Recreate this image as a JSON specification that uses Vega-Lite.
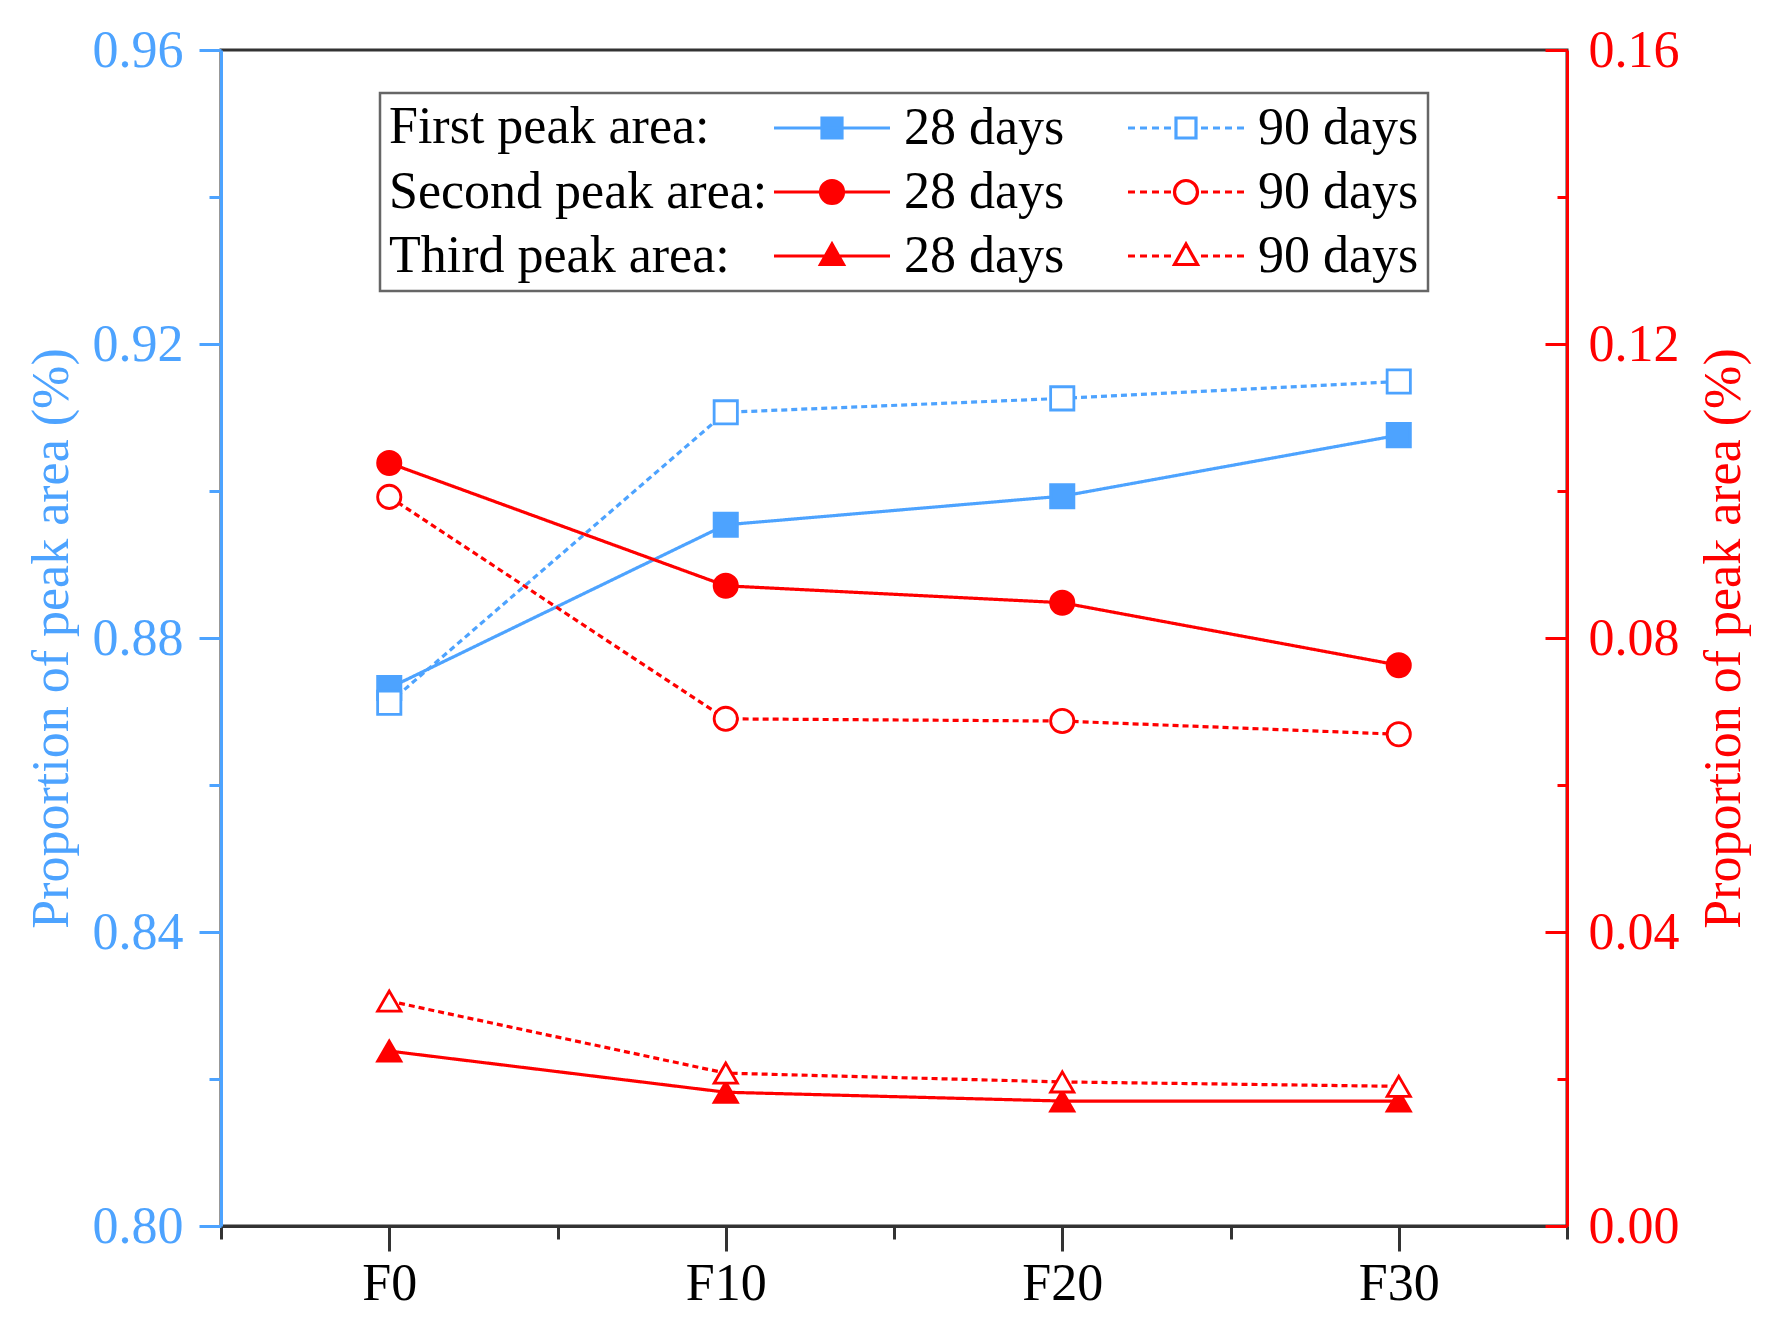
{
  "$schema": "https://vega.github.io/schema/vega-lite/v6.json",
  "autosize": "none",
  "width": 1346,
  "height": 1176,
  "padding": {"left": 221, "top": 50, "right": 214, "bottom": 114},
  "background": "white",
  "config": {
    "font": "Liberation Serif",
    "view": {"stroke": "#333333", "strokeWidth": 3},
    "axis": {"grid": false, "labelFont": "Liberation Serif", "titleFont": "Liberation Serif", "labelFontSize": 52, "titleFontSize": 52, "titleFontWeight": "normal", "tickWidth": 3, "domainWidth": 3}
  },
  "data": {
    "values": [
      {"mix": "F0", "peak": "First", "series": "First peak, 28 days", "value": 0.8732},
      {"mix": "F10", "peak": "First", "series": "First peak, 28 days", "value": 0.8954},
      {"mix": "F20", "peak": "First", "series": "First peak, 28 days", "value": 0.8993},
      {"mix": "F30", "peak": "First", "series": "First peak, 28 days", "value": 0.9076},
      {"mix": "F0", "peak": "First", "series": "First peak, 90 days", "value": 0.8712},
      {"mix": "F10", "peak": "First", "series": "First peak, 90 days", "value": 0.9107},
      {"mix": "F20", "peak": "First", "series": "First peak, 90 days", "value": 0.9126},
      {"mix": "F30", "peak": "First", "series": "First peak, 90 days", "value": 0.9149},
      {"mix": "F0", "peak": "Second", "series": "Second peak, 28 days", "value": 0.1038},
      {"mix": "F10", "peak": "Second", "series": "Second peak, 28 days", "value": 0.0871},
      {"mix": "F20", "peak": "Second", "series": "Second peak, 28 days", "value": 0.0848},
      {"mix": "F30", "peak": "Second", "series": "Second peak, 28 days", "value": 0.0763},
      {"mix": "F0", "peak": "Second", "series": "Second peak, 90 days", "value": 0.0992},
      {"mix": "F10", "peak": "Second", "series": "Second peak, 90 days", "value": 0.0690},
      {"mix": "F20", "peak": "Second", "series": "Second peak, 90 days", "value": 0.0687},
      {"mix": "F30", "peak": "Second", "series": "Second peak, 90 days", "value": 0.0669},
      {"mix": "F0", "peak": "Third", "series": "Third peak, 28 days", "value": 0.0238},
      {"mix": "F10", "peak": "Third", "series": "Third peak, 28 days", "value": 0.0182},
      {"mix": "F20", "peak": "Third", "series": "Third peak, 28 days", "value": 0.0170},
      {"mix": "F30", "peak": "Third", "series": "Third peak, 28 days", "value": 0.0170},
      {"mix": "F0", "peak": "Third", "series": "Third peak, 90 days", "value": 0.0306},
      {"mix": "F10", "peak": "Third", "series": "Third peak, 90 days", "value": 0.0208},
      {"mix": "F20", "peak": "Third", "series": "Third peak, 90 days", "value": 0.0196},
      {"mix": "F30", "peak": "Third", "series": "Third peak, 90 days", "value": 0.0190}
    ]
  },
  "layer": [
    {
      "transform": [{"filter": "datum.peak == 'First'"}],
      "encoding": {
        "x": {"field": "mix", "type": "ordinal", "sort": ["F0", "F10", "F20", "F30"], "scale": {"type": "point", "padding": 0.5},
          "axis": {"orient": "bottom", "title": null, "labelAngle": 0, "tickSize": 25, "tickColor": "#333333", "domainColor": "#333333", "labelColor": "black", "labelPadding": 7}},
        "y": {"field": "value", "type": "quantitative", "scale": {"domain": [0.8, 0.96], "zero": false, "nice": false},
          "axis": {"orient": "left", "values": [0.8, 0.84, 0.88, 0.92, 0.96], "format": ".2f", "tickSize": 22, "tickColor": "#4da3ff", "domainColor": "#4da3ff", "labelColor": "#4da3ff", "labelPadding": 16, "title": "Proportion of peak area (%)", "titleColor": "#4da3ff", "titlePadding": 14}},
        "stroke": {"field": "series", "type": "nominal", "legend": null,
          "scale": {"domain": ["First peak, 28 days", "First peak, 90 days", "Second peak, 28 days", "Second peak, 90 days", "Third peak, 28 days", "Third peak, 90 days"], "range": ["#4da3ff", "#4da3ff", "#ff0000", "#ff0000", "#ff0000", "#ff0000"]}}
      },
      "layer": [
        {"mark": {"type": "line", "strokeWidth": 3.2},
          "encoding": {"strokeDash": {"field": "series", "type": "nominal", "legend": null,
            "scale": {"domain": ["First peak, 28 days", "First peak, 90 days", "Second peak, 28 days", "Second peak, 90 days", "Third peak, 28 days", "Third peak, 90 days"], "range": [[1, 0], [6, 4], [1, 0], [6, 4], [1, 0], [6, 4]]}}}},
        {"mark": {"type": "point", "filled": true, "opacity": 1, "strokeWidth": 2.8, "size": 540},
          "encoding": {
            "fill": {"field": "series", "type": "nominal", "legend": null,
              "scale": {"domain": ["First peak, 28 days", "First peak, 90 days", "Second peak, 28 days", "Second peak, 90 days", "Third peak, 28 days", "Third peak, 90 days"], "range": ["#4da3ff", "white", "#ff0000", "white", "#ff0000", "white"]}},
            "shape": {"field": "series", "type": "nominal", "legend": null,
              "scale": {"domain": ["First peak, 28 days", "First peak, 90 days", "Second peak, 28 days", "Second peak, 90 days", "Third peak, 28 days", "Third peak, 90 days"], "range": ["square", "square", "circle", "circle", "triangle-up", "triangle-up"]}}
          }}
      ]
    },
    {
      "transform": [{"filter": "datum.peak != 'First'"}],
      "encoding": {
        "x": {"field": "mix", "type": "ordinal", "sort": ["F0", "F10", "F20", "F30"], "scale": {"type": "point", "padding": 0.5}, "axis": null},
        "y": {"field": "value", "type": "quantitative", "scale": {"domain": [0, 0.16], "zero": false, "nice": false},
          "axis": {"orient": "right", "values": [0, 0.04, 0.08, 0.12, 0.16], "format": ".2f", "tickSize": -22, "tickColor": "#ff0000", "domainColor": "#ff0000", "labelColor": "#ff0000", "labelPadding": 43, "title": "Proportion of peak area (%)", "titleColor": "#ff0000", "titleAngle": 270, "titleBaseline": "top", "titlePadding": 19}},
        "stroke": {"field": "series", "type": "nominal", "legend": null,
          "scale": {"domain": ["First peak, 28 days", "First peak, 90 days", "Second peak, 28 days", "Second peak, 90 days", "Third peak, 28 days", "Third peak, 90 days"], "range": ["#4da3ff", "#4da3ff", "#ff0000", "#ff0000", "#ff0000", "#ff0000"]}}
      },
      "layer": [
        {"mark": {"type": "line", "strokeWidth": 3.2},
          "encoding": {"strokeDash": {"field": "series", "type": "nominal", "legend": null,
            "scale": {"domain": ["First peak, 28 days", "First peak, 90 days", "Second peak, 28 days", "Second peak, 90 days", "Third peak, 28 days", "Third peak, 90 days"], "range": [[1, 0], [6, 4], [1, 0], [6, 4], [1, 0], [6, 4]]}}}},
        {"mark": {"type": "point", "filled": true, "opacity": 1, "strokeWidth": 2.8, "size": 540},
          "encoding": {
            "fill": {"field": "series", "type": "nominal", "legend": null,
              "scale": {"domain": ["First peak, 28 days", "First peak, 90 days", "Second peak, 28 days", "Second peak, 90 days", "Third peak, 28 days", "Third peak, 90 days"], "range": ["#4da3ff", "white", "#ff0000", "white", "#ff0000", "white"]}},
            "shape": {"field": "series", "type": "nominal", "legend": null,
              "scale": {"domain": ["First peak, 28 days", "First peak, 90 days", "Second peak, 28 days", "Second peak, 90 days", "Third peak, 28 days", "Third peak, 90 days"], "range": ["square", "square", "circle", "circle", "triangle-up", "triangle-up"]}}
          }}
      ]
    },
    {
      "mark": {"type": "point", "opacity": 0},
      "encoding": {
        "x": {"field": "mix", "type": "ordinal", "sort": ["F0", "F10", "F20", "F30"], "scale": {"type": "band", "paddingInner": 0, "paddingOuter": 0},
          "axis": {"orient": "bottom", "tickBand": "extent", "tickSize": 13, "tickColor": "#333333", "labels": false, "domain": false, "title": null}}
      }
    },
    {
      "mark": {"type": "point", "opacity": 0},
      "encoding": {
        "y": {"field": "value", "type": "quantitative", "scale": {"domain": [0.8, 0.96], "zero": false, "nice": false},
          "axis": {"orient": "left", "values": [0.82, 0.86, 0.9, 0.94], "tickSize": 12, "tickColor": "#4da3ff", "labels": false, "domain": false, "title": null}}
      }
    },
    {
      "mark": {"type": "point", "opacity": 0},
      "encoding": {
        "y": {"field": "value", "type": "quantitative", "scale": {"domain": [0, 0.16], "zero": false, "nice": false},
          "axis": {"orient": "right", "values": [0.02, 0.06, 0.1, 0.14], "tickSize": -10, "tickColor": "#ff0000", "labels": false, "domain": false, "title": null}}
      }
    },
    {
      "mark": {"type": "point", "filled": true, "opacity": 0, "strokeWidth": 3},
      "encoding": {
        "shape": {"field": "series", "type": "nominal",
          "scale": {"domain": ["First peak, 28 days", "First peak, 90 days", "Second peak, 28 days", "Second peak, 90 days", "Third peak, 28 days", "Third peak, 90 days"],
            "range": [
              "M-5.8,0H5.8M-1,-1H1V1H-1Z",
              "M-5.8,0H-5.1M-4.6,0H-3.9M-3.4,0H-2.7M-2.2,0H-1.5M1.5,0H2.2M2.7,0H3.4M3.9,0H4.6M5.1,0H5.8M-1,-1H1V1H-1Z",
              "M-5.8,0H5.8M-1.15,0A1.15,1.15,0,1,0,1.15,0A1.15,1.15,0,1,0,-1.15,0Z",
              "M-5.8,0H-5.1M-4.6,0H-3.9M-3.4,0H-2.7M-2.2,0H-1.5M1.5,0H2.2M2.7,0H3.4M3.9,0H4.6M5.1,0H5.8M-1.15,0A1.15,1.15,0,1,0,1.15,0A1.15,1.15,0,1,0,-1.15,0Z",
              "M-5.8,0H5.8M0,-1.2L1.15,0.85H-1.15Z",
              "M-5.8,0H-5.1M-4.6,0H-3.9M-3.4,0H-2.7M-2.2,0H-1.5M1.5,0H2.2M2.7,0H3.4M3.9,0H4.6M5.1,0H5.8M0,-1.2L1.15,0.85H-1.15Z"
            ]},
          "legend": {"orient": "none", "legendX": 159, "legendY": 43, "columns": 2, "direction": "horizontal",
            "title": ["First peak area:", "Second peak area:", "Third peak area:"],
            "titleOrient": "left", "titleAnchor": "start", "titleBaseline": "top", "titleAlign": "left",
            "titleFontSize": 52, "titleFont": "Liberation Serif", "titleFontWeight": "normal", "titleColor": "black", "titleLineHeight": 64.5, "titlePadding": 38, "titleLimit": 2000,
            "labelFontSize": 52, "labelFont": "Liberation Serif", "labelColor": "black", "labelLimit": 2000, "labelOffset": 46, "labelBaseline": "middle",
            "labelExpr": "slice(datum.label, -7)",
            "symbolSize": 400, "symbolStrokeWidth": 3.2, "symbolFillColor": "white", "symbolStrokeColor": "black", "columnPadding": 56, "rowPadding": 12, "padding": 9, "strokeColor": "#666666",
            "encode": {"symbols": {"update": {"opacity": {"value": 1}}}, "legend": {"update": {"strokeWidth": {"value": 2.5}}}}}
        },
        "stroke": {"field": "series", "type": "nominal",
          "scale": {"domain": ["First peak, 28 days", "First peak, 90 days", "Second peak, 28 days", "Second peak, 90 days", "Third peak, 28 days", "Third peak, 90 days"], "range": ["#4da3ff", "#4da3ff", "#ff0000", "#ff0000", "#ff0000", "#ff0000"]},
          "legend": {"orient": "none", "legendX": 159, "legendY": 43, "columns": 2, "direction": "horizontal", "symbolFillColor": "white", "symbolStrokeColor": "black"}},
        "fill": {"field": "series", "type": "nominal",
          "scale": {"domain": ["First peak, 28 days", "First peak, 90 days", "Second peak, 28 days", "Second peak, 90 days", "Third peak, 28 days", "Third peak, 90 days"], "range": ["#4da3ff", "white", "#ff0000", "white", "#ff0000", "white"]},
          "legend": {"orient": "none", "legendX": 159, "legendY": 43, "columns": 2, "direction": "horizontal", "symbolFillColor": "white", "symbolStrokeColor": "black"}}
      }
    }
  ],
  "resolve": {"scale": {"x": "independent", "y": "independent", "stroke": "independent", "fill": "independent", "shape": "independent", "strokeDash": "independent"}}
}
